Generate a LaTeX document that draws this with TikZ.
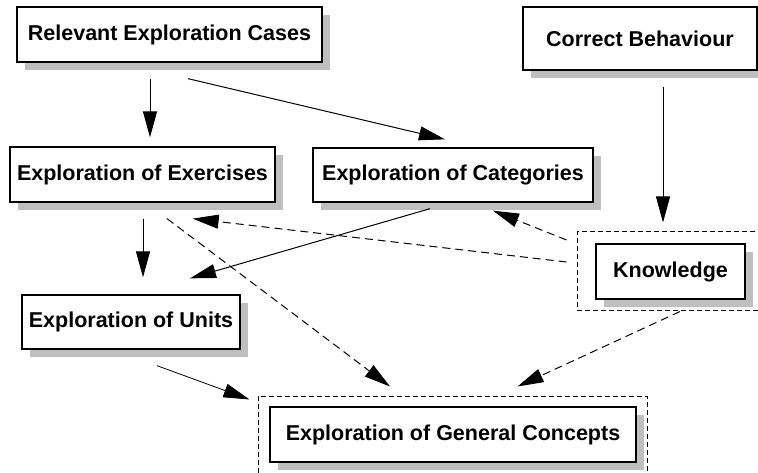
\documentclass[tikz,border=0pt]{standalone}
\usepackage{fontspec}
\setmainfont{Liberation Sans}
\usetikzlibrary{arrows.meta,calc,shadows}

\begin{document}
\begin{tikzpicture}[x=1pt,y=1pt,>={Triangle[length=26pt,width=14pt]},box/.style={draw,line width=1.3pt,fill=white,font=\fontsize{21.5}{24}\selectfont\bfseries,align=center,inner sep=0pt,drop shadow={shadow xshift=8pt,shadow yshift=-8pt,fill=black!25,opacity=1}},frame/.style={draw,line width=1pt,dash pattern=on 5pt off 3pt,inner sep=0pt},arrow/.style={->,line width=1pt},thinarrow/.style={->,line width=0.8pt},darrow/.style={->,line width=1pt,dash pattern=on 8pt off 5pt}]
\useasboundingbox (0,0) rectangle (758,-473); \clip (0,0) rectangle (758,-473);
\node[frame,minimum width=190pt,minimum height=78pt] (kframe) at (672,-271) {};
\node[frame,minimum width=389pt,minimum height=94pt] (gframe) at (452.5,-443) {};
\node[box,minimum width=305pt,minimum height=55pt] (cases) at (169.5,-34.5) {Relevant Exploration Cases};
\node[box,minimum width=234pt,minimum height=63pt] (behaviour) at (640,-38.5) {Correct Behaviour};
\node[box,minimum width=265pt,minimum height=55pt] (exercises) at (142.5,-174.5) {Exploration of Exercises}; \node[box,minimum width=280pt,minimum height=54pt] (categories) at (453,-175) {Exploration of Categories};
\node[box,minimum width=149pt,minimum height=55pt] (knowledge) at (670.5,-271.5) {Knowledge};
\node[box,minimum width=218pt,minimum height=54pt] (units) at (131,-322) {Exploration of Units};
\node[box,minimum width=366pt,minimum height=55pt] (general) at (453,-434.5) {Exploration of General Concepts};
\draw[arrow] ($(cases.south)+(-19.5,-16)$)--($(exercises.north)+(7.5,9)$); \draw[arrow] ($(cases.south)+(18.5,-16)$)--($(categories.north)+(-8,8)$);
\draw[arrow] ($(exercises.south)+(0.5,-16)$)--($(units.north)+(12,17)$); \draw[arrow] ($(categories.south)+(-23,-6)$)--($(units.north)+(59,16)$);
\draw[arrow] ($(behaviour.south)+(23,-16)$)--($(kframe.north)+(-9,9)$);
\draw[thinarrow] ($(units.south)+(26,-16)$)--($(gframe.north west)+(-8,-4)$);
\draw[darrow] ($(exercises.south)+(24.5,-16)$)--($(gframe.north)+(-62.5,9)$);
\draw[darrow] ($(kframe.west)+(-10,9)$)--($(exercises.south east)+(-83,-16)$); \draw[darrow] ($(kframe.west)+(-10,31)$)--($(categories.south)+(40,-8)$);
\draw[darrow] ($(kframe.south)+(8,-1)$)--($(gframe.north east)+(-130,9)$);
\end{tikzpicture}
\end{document}
